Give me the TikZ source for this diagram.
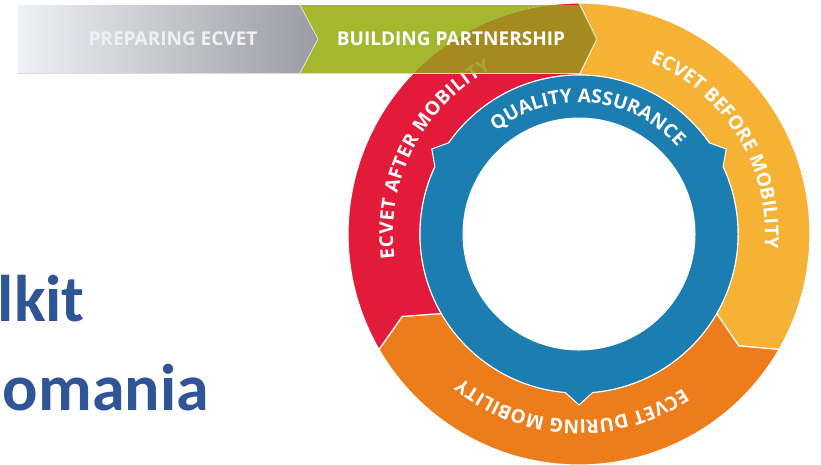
\documentclass[tikz,border=0pt]{standalone}
\usepackage{fontspec}
\newfontfamily\osfont{Open Sans}
\newfontfamily\cbfont{Carlito}
\usetikzlibrary{calc,decorations.text}
\definecolor{cred}{HTML}{E31B3B}
\definecolor{cyel}{HTML}{F6B234}
\definecolor{corg}{HTML}{EC7D1A}
\definecolor{cblue}{HTML}{1B7DB0}
\definecolor{cgreen}{HTML}{A3B72F}
\definecolor{colive}{HTML}{9C9A1C}
\definecolor{cgrayL}{HTML}{EDF2F6}
\definecolor{cgrayR}{HTML}{9B9BA5}
\definecolor{ctitle}{HTML}{2F5597}
\newcommand{\lblf}{\osfont\bfseries\fontsize{19}{19}\selectfont}
\begin{document}
\begin{tikzpicture}[x=1pt,y=1pt,
  seg/.style={draw=white, line width=1.2pt},
  bannertext/.style={font=\osfont\bfseries\fontsize{19}{19}\selectfont, text=white, inner sep=0pt},
  titletext/.style={font=\cbfont\bfseries\fontsize{66}{66}\selectfont, text=ctitle, inner sep=0pt, anchor=base east},
]
\useasboundingbox (0,0) rectangle (821,-464);
\fill[white] (0,0) rectangle (821,-464);
\coordinate (C) at (579,-234);

% outer segments
\fill[cyel, seg] ($(C)+(90:231pt)$) arc[start angle=90, end angle=-30, radius=231pt]
  -- ($(C)+(-35:195pt)$) -- ($(C)+(-30:159pt)$) arc[start angle=-30, end angle=90, radius=159pt]
  -- ($(C)+(85:195pt)$) -- cycle;
\fill[corg, seg] ($(C)+(-30:231pt)$) arc[start angle=-30, end angle=-150, radius=231pt]
  -- ($(C)+(-155:195pt)$) -- ($(C)+(-150:159pt)$) arc[start angle=-150, end angle=-30, radius=159pt]
  -- ($(C)+(-35:195pt)$) -- cycle;
\fill[cred, seg] ($(C)+(210:231pt)$) arc[start angle=210, end angle=90, radius=231pt]
  -- ($(C)+(85:195pt)$) -- ($(C)+(90:159pt)$) arc[start angle=90, end angle=210, radius=159pt]
  -- ($(C)+(205:195pt)$) -- cycle;

% blue ring with barbs
\fill[cblue, draw=white, line width=1pt, even odd rule]
  ($(C)+(35:159pt)$) arc[start angle=35, end angle=145, radius=159pt]
  -- ($(C)+(150:170pt)$) -- ($(C)+(155:159pt)$)
  arc[start angle=155, end angle=265, radius=159pt]
  -- ($(C)+(270:171pt)$) -- ($(C)+(275:159pt)$)
  arc[start angle=275, end angle=385, radius=159pt]
  -- ($(C)+(30:170pt)$) -- cycle
  (C) circle[radius=116pt];

% curved labels
\path[decorate, decoration={text along path, text color=white, text align={fit to path},
  text={|\lblf|QUALITY ASSURANCE}}]
  ($(C)+(129:131.5pt)$) arc[start angle=129, end angle=41.5, radius=131.5pt];
\path[decorate, decoration={text along path, text color=white, text align={fit to path},
  text={|\lblf|ECVET BEFORE MOBILITY}}]
  ($(C)+(67.5:186pt)$) arc[start angle=67.5, end angle=-4.3, radius=186pt];
\path[decorate, decoration={text along path, text color=white, text align={fit to path},
  text={|\lblf|ECVET DURING MOBILITY}}]
  ($(C)+(-56:186pt)$) arc[start angle=-56, end angle=-129, radius=186pt];
\path[decorate, decoration={text along path, text color=white, text align={fit to path},
  text={|\lblf|ECVET AFTER MOBILITY}}]
  ($(C)+(187.5:186pt)$) arc[start angle=187.5, end angle=118, radius=186pt];

% banner
\shade[left color=cgrayL, right color=cgrayR]
  (18,-5) -- (300,-5) -- (318,-39) -- (300,-73) -- (18,-73) -- cycle;
\begin{scope}
  \clip (300,-5) -- (580,-5) -- (597,-39) -- (580,-73) -- (300,-73) -- (318,-39) -- cycle;
  \fill[cgreen, even odd rule] (290,0) rectangle (610,-80) (C) circle[radius=231pt];
  \fill[colive, fill opacity=0.88] (C) circle[radius=231pt];
\end{scope}
\draw[white, line width=0.8pt, opacity=0.7] (300,-5) -- (318,-39) -- (300,-73);
\draw[white, line width=0.8pt, opacity=0.7] (580,-5) -- (597,-39) -- (580,-73);
\draw[gray!30, line width=0.8pt] (18,-73.5) -- (580,-73.5);

\node[bannertext, text=white!94!black] (prep) at (173,-39) {PREPARING ECVET};
\node[bannertext] (build) at (451,-39) {BUILDING PARTNERSHIP};

% title fragments
\node[titletext] (t1) at (85,-321) {lkit};
\node[titletext] (t2) at (209,-410) {omania};
\end{tikzpicture}
\end{document}
